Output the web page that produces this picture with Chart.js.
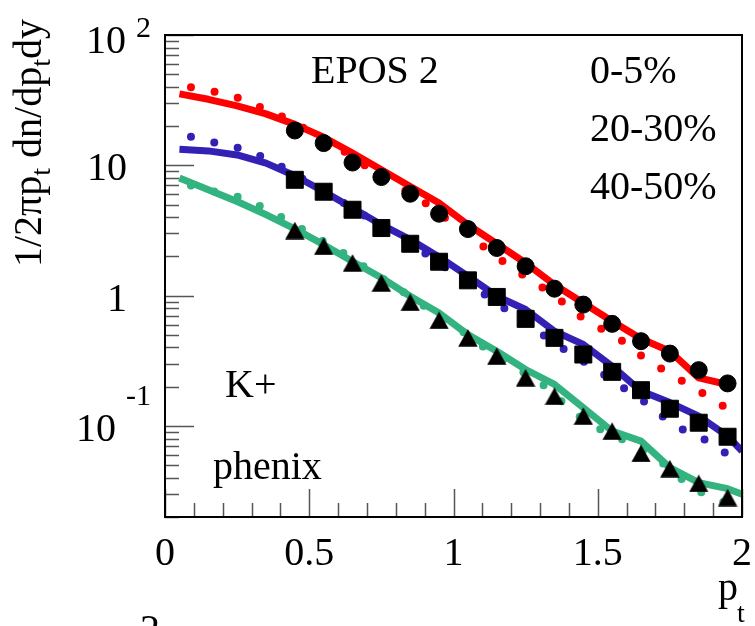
<!DOCTYPE html>
<html>
<head>
<meta charset="utf-8">
<script src="https://cdn.jsdelivr.net/npm/chart.js@4.4.1/dist/chart.umd.min.js"></script>
<style>
  html, body { margin: 0; padding: 0; background: #ffffff; }
  #c { display: block; }
</style>
</head>
<body>
<canvas id="c" width="755" height="626"></canvas>
<script>
// ---------------- DATA ----------------
// EPOS 2 curves (solid), bin centres in pt
const linePt = [0.05,0.15,0.25,0.35,0.45,0.55,0.65,0.75,0.85,0.95,1.05,1.15,1.25,1.35,1.45,1.55,1.65,1.75,1.85,1.95];
const lineRed   = [35.3,32.1,28.6,24.8,20.6,16.4,12.4,9.24,6.88,5.13,3.50,2.50,1.78,1.21,0.879,0.635,0.466,0.374,0.234,0.208];
const lineBluePt = [0.05,0.15,0.25,0.35,0.45,0.55,0.65,0.75,0.85,0.95,1.05,1.15,1.25,1.35,1.45,1.55,1.65,1.75,1.85,1.95,2.0];
const lineBlue  = [13.3,12.9,12.0,10.4,8.32,6.3,4.70,3.50,2.69,1.98,1.41,0.989,0.782,0.533,0.422,0.287,0.185,0.151,0.119,0.0836,0.064];
const lineGreenPt = [0.05,0.15,0.25,0.35,0.45,0.55,0.65,0.75,0.85,0.95,1.05,1.15,1.25,1.35,1.45,1.55,1.65,1.75,1.85,1.95,2.0];
const lineGreen = [7.98,6.49,5.28,4.18,3.25,2.46,1.83,1.37,0.99,0.736,0.502,0.374,0.271,0.208,0.138,0.0912,0.0764,0.0478,0.0367,0.033,0.0299];

// dotted curves
const dotRedPt = [0.09,0.17,0.25,0.33,0.41,0.50,0.62,0.69,0.90,1.03,1.10,1.16,1.23,1.30,1.37,1.43,1.50,1.575,1.64,1.71,1.78,1.85,1.92,1.97];
const dotRed   = [39.7,36.8,33.1,27.9,23.4,18.3,12.8,10.1,5.19,3.16,2.42,1.91,1.49,1.19,0.921,0.715,0.576,0.466,0.359,0.284,0.230,0.186,0.149,0.126];
const dotBluePt = [0.09,0.17,0.25,0.33,0.40,0.61,0.83,0.90,1.03,1.10,1.17,1.30,1.37,1.51,1.58,1.65,1.71,1.78,1.86,1.925,1.97];
const dotBlue   = [16.6,15.0,13.7,11.8,9.9,5.29,2.69,2.12,1.34,1.05,0.819,0.518,0.404,0.258,0.202,0.161,0.125,0.0969,0.0812,0.0661,0.0561];
const dotGreenPt = [0.09,0.17,0.25,0.32,0.40,0.61,0.83,1.03,1.10,1.23,1.305,1.425,1.49,1.64,1.71,1.77,1.84,1.91,1.97,2.0];
const dotGreen   = [7.0,6.3,5.76,4.98,4.05,2.18,1.05,0.532,0.409,0.268,0.212,0.1226,0.0986,0.0693,0.0553,0.0425,0.0322,0.0277,0.024,0.0212];

// PHENIX data points
const dataPt = [0.45,0.55,0.65,0.75,0.85,0.95,1.05,1.15,1.25,1.35,1.45,1.55,1.65,1.75,1.85,1.95];
const data0_5   = [18.5,14.8,10.5,8.12,6.05,4.25,3.24,2.32,1.68,1.13,0.853,0.607,0.447,0.359,0.268,0.212];
const data20_30 = [7.74,6.27,4.56,3.30,2.50,1.82,1.31,0.977,0.663,0.474,0.353,0.260,0.188,0.1355,0.1058,0.0826];
const data40_50 = [3.16,2.39,1.78,1.25,0.889,0.647,0.474,0.343,0.234,0.169,0.119,0.0912,0.0615,0.047,0.0362,0.0282];

// axis ticks / labels
const xTickValues = [0, 0.5, 1, 1.5, 2];
const xTickLabels = ['0', '0.5', '1', '1.5', '2'];
const yTickValues = [100, 10, 1, 0.1];
const yTickBase   = ['10', '10', '1', '10'];
const yTickExp    = ['2', '', '', '-1'];
const centralityLabels = ['0-5%', '20-30%', '40-50%'];

// ---------------- helpers ----------------
const zip = (xs, ys) => xs.map((x, i) => ({ x: x, y: ys[i] }));
const RED = '#ff0000', BLUE = '#3320b4', GREEN = '#33b37f';
const FONT = '"Liberation Serif", "Times New Roman", serif';

function triangleImage() {
  const c = document.createElement('canvas');
  c.width = 20; c.height = 18;
  const g = c.getContext('2d');
  g.fillStyle = '#000';
  g.beginPath();
  g.moveTo(10, 0.3); g.lineTo(19.7, 17.7); g.lineTo(0.3, 17.7); g.closePath();
  g.fill();
  return c;
}

function solid(xs, ys, color) {
  return { data: zip(xs, ys), borderColor: color, borderWidth: 7, pointRadius: 0,
           tension: 0, fill: false, order: 3, borderJoinStyle: 'round' };
}
function dotted(xs, ys, color) {
  return { data: zip(xs, ys), borderColor: color, borderWidth: 8, pointRadius: 0,
           tension: 0, fill: false, order: 2, borderDash: [0, 24], borderCapStyle: 'round' };
}
function markers(xs, ys, style, r) {
  return { data: zip(xs, ys), showLine: false, pointStyle: style, pointRadius: r,
           pointBackgroundColor: '#000', pointBorderColor: '#000', pointBorderWidth: 1,
           pointHoverRadius: r, order: 1 };
}

const decor = {
  id: 'decor',
  afterDraw(chart) {
    const { ctx, chartArea: a, scales: { x, y } } = chart;
    ctx.save();
    // ticks
    ctx.strokeStyle = '#555'; ctx.lineWidth = 1.5;
    ctx.beginPath();
    for (let i = 0; i <= 20; i++) {
      const px = Math.round(x.getPixelForValue(i / 10)) + 0.5;
      const len = (i % 5 === 0) ? 28 : 14;
      ctx.moveTo(px, a.bottom); ctx.lineTo(px, a.bottom - len);
    }
    for (let e = -2; e <= 2; e++) {
      for (let m = 1; m <= 9; m++) {
        const v = m * Math.pow(10, e);
        if (v < 0.0199 || v > 100.01) continue;
        const py = Math.round(y.getPixelForValue(v)) + 0.5;
        const len = (m === 1) ? 29 : 14;
        ctx.moveTo(a.left, py); ctx.lineTo(a.left + len, py);
      }
    }
    ctx.stroke();
    // frame
    ctx.strokeStyle = '#000'; ctx.lineWidth = 2;
    ctx.strokeRect(a.left, a.top, a.right - a.left, a.bottom - a.top);

    ctx.fillStyle = '#000';
    ctx.textBaseline = 'alphabetic';
    // x tick labels
    ctx.font = '40px ' + FONT; ctx.textAlign = 'center';
    xTickValues.forEach((v, i) => ctx.fillText(xTickLabels[i], x.getPixelForValue(v), 565));
    // y tick labels
    yTickValues.forEach((v, i) => {
      const py = y.getPixelForValue(v);
      const exp = yTickExp[i];
      ctx.textAlign = 'right';
      if (exp) {
        const top = (v >= 100);
        ctx.font = '30px ' + FONT;
        const w = ctx.measureText(exp).width;
        ctx.fillText(exp, 151, top ? py + 2 : py - 21);
        ctx.font = '40px ' + FONT;
        ctx.fillText(yTickBase[i], 151 - w - 10, top ? py + 18 : py + 15);
      } else {
        ctx.font = '40px ' + FONT;
        ctx.fillText(yTickBase[i], 127, py + 15);
      }
    });
    // x title p_t
    ctx.textAlign = 'left';
    ctx.font = '40px ' + FONT; ctx.fillText('p', 718, 600);
    ctx.font = '28px ' + FONT; ctx.fillText('t', 737, 622);
    // y title (rotated)
    ctx.save();
    ctx.translate(41, 267); ctx.rotate(-Math.PI / 2);
    const parts = [['1/2πp', 40, 0], ['t', 28, 9], [' dn/dp', 40, 0], ['t', 28, 9], ['dy', 40, 0]];
    let cx = 0;
    parts.forEach(p => {
      ctx.font = p[1] + 'px ' + FONT;
      ctx.fillText(p[0], cx, p[2]);
      cx += ctx.measureText(p[0]).width;
    });
    ctx.restore();
    // annotations
    ctx.font = '40px ' + FONT; ctx.textAlign = 'left';
    ctx.fillText('EPOS 2', 311, 83);
    ctx.fillText(centralityLabels[0], 590, 83);
    ctx.fillText(centralityLabels[1], 590, 141);
    ctx.fillText(centralityLabels[2], 590, 199);
    ctx.fillText('K+', 225, 397);
    ctx.fillText('phenix', 213, 479);
    // cut-off glyph at bottom edge
    ctx.fillText('2', 140, 642);
    ctx.restore();
  }
};

new Chart(document.getElementById('c'), {
  type: 'line',
  data: {
    datasets: [
      solid(linePt, lineRed, RED),
      solid(lineBluePt, lineBlue, BLUE),
      solid(lineGreenPt, lineGreen, GREEN),
      dotted(dotRedPt, dotRed, RED),
      dotted(dotBluePt, dotBlue, BLUE),
      dotted(dotGreenPt, dotGreen, GREEN),
      markers(dataPt, data0_5, 'circle', 8.5),
      markers(dataPt, data20_30, 'rect', 12),
      markers(dataPt, data40_50, triangleImage(), 9)
    ]
  },
  options: {
    responsive: false,
    animation: false,
    events: [],
    layout: { padding: { left: 165, right: 10, top: 35, bottom: 109 } },
    scales: {
      x: { type: 'linear', min: 0, max: 2, display: false },
      y: { type: 'logarithmic', min: 0.02, max: 100, display: false }
    },
    plugins: { legend: { display: false }, tooltip: { enabled: false } }
  },
  plugins: [decor]
});
</script>
</body>
</html>
